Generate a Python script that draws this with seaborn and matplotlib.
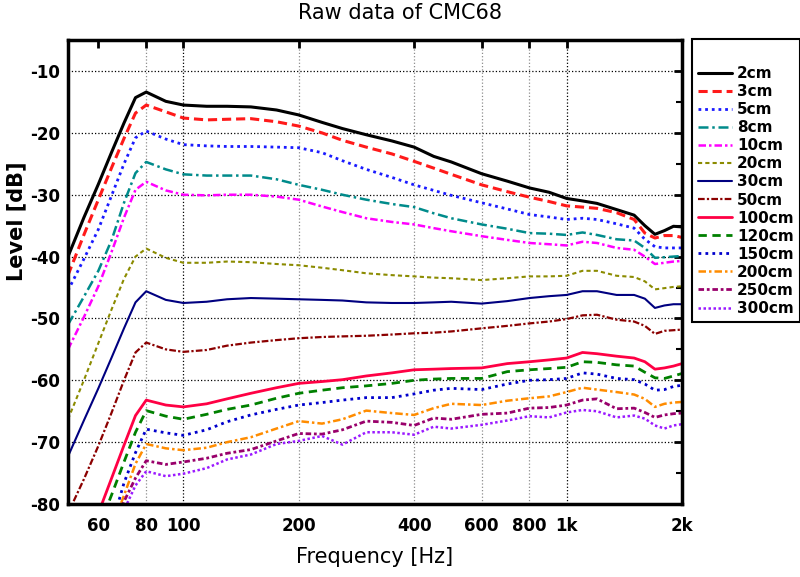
import matplotlib

matplotlib.use("Agg")
import matplotlib.pyplot as plt
import matplotlib.ticker as mticker
import pandas as pd
import seaborn as sns

# Frequency grid (Hz)
freq_hz = [50, 55, 60, 65, 70, 75, 80, 90, 100, 115, 130, 150, 175, 200, 230,
           260, 300, 350, 400, 450, 500, 600, 700, 800, 900, 1000, 1100, 1200,
           1350, 1500, 1600, 1700, 1800, 1900, 2000]

# Levels in dB for each microphone distance
level_2cm = [-40.0, -33.7, -28.3, -23.1, -18.4, -14.3, -13.4, -14.9, -15.5, -15.7,
             -15.7, -15.8, -16.3, -17.1, -18.3, -19.3, -20.3, -21.3, -22.3, -23.8,
             -24.7, -26.6, -27.8, -28.9, -29.6, -30.6, -31.0, -31.4, -32.4, -33.3,
             -35.0, -36.4, -35.8, -35.1, -35.2]
level_3cm = [-43.0, -36.5, -30.8, -25.6, -20.9, -16.8, -15.5, -16.6, -17.6, -17.9,
             -17.8, -17.7, -18.2, -18.9, -20.0, -21.2, -22.3, -23.4, -24.6, -25.7,
             -26.7, -28.4, -29.5, -30.4, -31.1, -31.8, -32.0, -32.2, -32.9, -34.0,
             -36.2, -37.0, -36.6, -36.6, -36.9]
level_5cm = [-45.5, -40.4, -35.6, -30.1, -25.0, -20.8, -19.7, -21.0, -21.9, -22.1,
             -22.2, -22.2, -22.3, -22.4, -23.2, -24.5, -25.9, -27.2, -28.4, -29.3,
             -30.1, -31.3, -32.3, -33.2, -33.6, -34.0, -33.8, -34.0, -34.7, -35.4,
             -37.2, -38.4, -38.6, -38.6, -38.6]
level_8cm = [-51.0, -46.5, -42.3, -37.3, -31.3, -26.5, -24.7, -25.9, -26.7, -26.9,
             -26.9, -26.9, -27.5, -28.4, -29.2, -30.0, -30.8, -31.5, -32.0, -33.0,
             -33.8, -34.8, -35.5, -36.2, -36.3, -36.5, -36.1, -36.5, -37.2, -37.4,
             -38.6, -40.2, -40.1, -40.0, -39.9]
level_10cm = [-55.0, -49.8, -44.8, -39.2, -33.7, -29.2, -27.9, -29.3, -30.0, -30.1,
              -30.0, -30.0, -30.3, -30.8, -31.9, -32.8, -33.8, -34.4, -34.8, -35.4,
              -35.9, -36.7, -37.3, -37.8, -38.0, -38.2, -37.6, -37.8, -38.6, -38.9,
              -40.0, -41.2, -41.0, -40.8, -40.7]
level_20cm = [-66.3, -60.0, -54.0, -48.5, -43.6, -40.0, -38.7, -40.2, -41.0, -41.0,
              -40.8, -40.9, -41.2, -41.4, -41.8, -42.2, -42.7, -43.0, -43.2, -43.4,
              -43.5, -43.8, -43.5, -43.2, -43.2, -43.1, -42.3, -42.3, -43.1, -43.3,
              -44.0, -45.3, -45.1, -44.9, -44.8]
level_30cm = [-72.3, -66.5, -61.3, -56.3, -51.6, -47.4, -45.6, -47.0, -47.5, -47.3,
              -46.9, -46.7, -46.8, -46.9, -47.0, -47.1, -47.4, -47.5, -47.5, -47.4,
              -47.3, -47.6, -47.2, -46.7, -46.4, -46.2, -45.6, -45.6, -46.2, -46.2,
              -46.8, -48.3, -47.9, -47.7, -47.7]
level_50cm = [-81.5, -76.0, -70.6, -65.2, -60.0, -55.5, -53.9, -55.0, -55.4, -55.1,
              -54.4, -53.9, -53.5, -53.2, -53.0, -52.9, -52.8, -52.6, -52.4, -52.3,
              -52.1, -51.6, -51.2, -50.8, -50.5, -50.1, -49.5, -49.4, -50.2, -50.5,
              -51.2, -52.5, -52.0, -51.9, -51.8]
level_100cm = [-93.5, -88.0, -81.5, -75.8, -70.5, -65.7, -63.2, -64.0, -64.3, -63.8,
               -63.0, -62.1, -61.2, -60.5, -60.2, -59.9, -59.3, -58.8, -58.3, -58.2,
               -58.1, -58.0, -57.3, -57.0, -56.7, -56.4, -55.5, -55.7, -56.1, -56.4,
               -57.0, -58.2, -58.0, -57.7, -57.3]
level_120cm = [-96.0, -90.0, -84.0, -78.5, -73.2, -68.4, -64.9, -65.8, -66.3, -65.5,
               -64.7, -64.0, -62.9, -62.1, -61.6, -61.2, -60.9, -60.5, -60.0, -59.8,
               -59.7, -59.7, -58.6, -58.3, -58.1, -57.9, -57.0, -57.1, -57.5, -57.7,
               -58.7, -59.6, -59.7, -59.3, -58.9]
level_150cm = [-100.0, -95.0, -89.0, -83.5, -76.6, -71.7, -67.9, -68.5, -68.9, -68.0,
               -66.7, -65.6, -64.7, -64.0, -63.6, -63.2, -62.8, -62.8, -62.2, -61.6,
               -61.3, -61.5, -60.6, -60.0, -59.9, -59.7, -58.8, -59.0, -59.7, -59.9,
               -60.6, -61.6, -61.5, -61.0, -60.8]
level_200cm = [-101.0, -96.0, -90.0, -84.0, -78.6, -73.5, -70.3, -71.0, -71.3, -70.9,
               -70.0, -69.2, -67.8, -66.6, -67.0, -66.3, -64.9, -65.3, -65.6, -64.5,
               -63.8, -64.0, -63.3, -62.9, -62.6, -61.9, -61.2, -61.5, -61.9, -62.3,
               -63.0, -64.3, -63.8, -63.6, -63.5]
level_250cm = [-102.0, -97.0, -91.0, -85.0, -79.6, -75.8, -73.0, -73.6, -73.2, -72.6,
               -71.8, -71.2, -69.8, -68.6, -68.7, -68.0, -66.6, -66.8, -67.3, -66.1,
               -66.3, -65.5, -65.3, -64.5, -64.4, -64.0, -63.2, -63.0, -64.6, -64.5,
               -65.2, -66.0, -65.6, -65.4, -65.3]
level_300cm = [-103.0, -98.0, -92.0, -86.5, -81.0, -77.0, -74.7, -75.5, -75.1, -74.2,
               -72.8, -72.0, -70.3, -69.8, -69.0, -70.4, -68.4, -68.4, -68.8, -67.5,
               -67.8, -67.2, -66.5, -65.8, -66.0, -65.2, -64.8, -65.0, -66.0, -65.7,
               -66.2, -67.3, -67.8, -67.3, -67.1]

distance_labels = ["2cm", "3cm", "5cm", "8cm", "10cm", "20cm", "30cm", "50cm",
                   "100cm", "120cm", "150cm", "200cm", "250cm", "300cm"]
x_tick_values = [60, 80, 100, 200, 400, 600, 800, 1000, 2000]
x_tick_labels = ["60", "80", "100", "200", "400", "600", "800", "1k", "2k"]

levels = [level_2cm, level_3cm, level_5cm, level_8cm, level_10cm, level_20cm,
          level_30cm, level_50cm, level_100cm, level_120cm, level_150cm,
          level_200cm, level_250cm, level_300cm]

# colour, dash pattern, line width per series
styles = [
    ("#000000", "-", 2.2),
    ("#ff1a1a", (0, (3, 1.6)), 2.2),
    ("#1a1aff", (0, (1, 1.4)), 2.0),
    ("#008b8b", (0, (4, 1.5, 1, 1.5)), 1.8),
    ("#ff00ff", (0, (3, 1.2, 1, 1.2)), 1.8),
    ("#8b8b00", (0, (2, 1.5)), 1.5),
    ("#000080", "-", 1.5),
    ("#8b0000", (0, (3, 1, 1, 1)), 1.6),
    ("#ff0044", "-", 2.0),
    ("#008000", (0, (3, 2)), 2.0),
    ("#0000cc", (0, (1, 1.5)), 2.0),
    ("#ff8c00", (0, (3, 1.2, 1, 1.2)), 1.8),
    ("#99006b", (0, (2, 1, 1, 1)), 2.0),
    ("#9b1aff", (0, (1, 1)), 1.8),
]

sns.set_style("white")
plt.rcParams["font.family"] = ["DejaVu Sans"]
plt.rcParams["axes.unicode_minus"] = False
plt.rcParams["text.color"] = "black"
plt.rcParams["axes.labelcolor"] = "black"
plt.rcParams["xtick.color"] = "black"
plt.rcParams["ytick.color"] = "black"

fig = plt.figure(figsize=(8, 5.77), dpi=100)
ax = fig.add_axes([0.085, 0.1265, 0.7675, 0.804])

for label, values, (color, ls, lw) in zip(distance_labels, levels, styles):
    df = pd.DataFrame({"Frequency": freq_hz, "Level": values})
    sns.lineplot(data=df, x="Frequency", y="Level", ax=ax, color=color,
                 linestyle=ls, linewidth=lw, label=label, errorbar=None)

ax.set_xscale("log")
ax.set_xlim(50, 2000)
ax.set_ylim(-80, -5)
ax.xaxis.set_major_locator(mticker.FixedLocator(x_tick_values))
ax.xaxis.set_major_formatter(mticker.FixedFormatter(x_tick_labels))
ax.xaxis.set_minor_locator(mticker.NullLocator())
ax.yaxis.set_major_locator(mticker.MultipleLocator(10))
ax.yaxis.set_minor_locator(mticker.MultipleLocator(5))

ax.tick_params(which="both", direction="in", top=True, right=True)
ax.tick_params(which="major", length=6, width=2, labelsize=12, pad=6)
ax.tick_params(axis="x", which="major", pad=9)
ax.tick_params(which="minor", length=4, width=1.5)
for lab in ax.get_xticklabels() + ax.get_yticklabels():
    lab.set_fontweight("bold")
for spine in ax.spines.values():
    spine.set_linewidth(2.5)
    spine.set_color("black")

ax.grid(True, which="major", linestyle=":", color="black", linewidth=0.9)
for val, tick in zip(x_tick_values, ax.xaxis.get_major_ticks()):
    if val == 60:
        tick.gridline.set_visible(False)
    elif val not in (100, 1000):
        tick.gridline.set_alpha(0.45)

ax.set_xlabel("Frequency [Hz]", fontsize=15, labelpad=9)
ax.set_ylabel("Level [dB]", fontsize=15, fontweight="bold", labelpad=4)
ax.yaxis.set_label_coords(-0.068, 0.61)
fig.text(0.5, 0.978, "Raw data of CMC68", ha="center", va="center", fontsize=15)

leg = ax.legend(loc="upper left", bbox_to_anchor=(692 / 800, 1 - 39 / 577),
                bbox_transform=fig.transFigure, borderaxespad=0, fontsize=11,
                title=" ", title_fontsize=12, handlelength=2.2, handletextpad=0.35,
                labelspacing=0.2, fancybox=False, framealpha=1, borderpad=0.4)
leg.get_frame().set_edgecolor("black")
leg.get_frame().set_linewidth(1.5)
for text in leg.get_texts():
    text.set_fontweight("bold")

fig.savefig("out.png", dpi=100)
